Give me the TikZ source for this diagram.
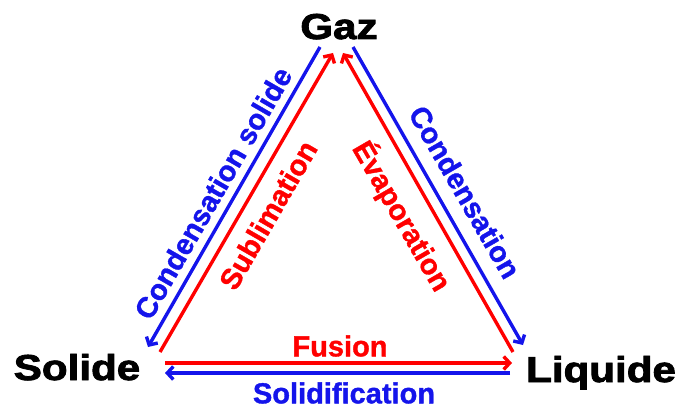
\documentclass[tikz,border=0pt]{standalone}
\usepackage{fontspec}
\setmainfont{Liberation Sans}
\newfontfamily\heavyfont{Liberation Sans}[BoldFeatures={FakeBold=2.2}]
\newfontfamily\midfont{Liberation Sans}[BoldFeatures={FakeBold=1.2}]
\usetikzlibrary{arrows.meta}
\definecolor{cred}{RGB}{255,0,0}
\definecolor{cblue}{RGB}{20,20,235}
\begin{document}
\begin{tikzpicture}[x=1pt,y=-1pt,
  state/.style={font=\heavyfont\fontsize{36}{40}\selectfont\bfseries, xscale=1.17, inner sep=0, anchor=base},
  lbl/.style={font=\midfont\fontsize{29}{32}\selectfont\bfseries, inner sep=0},
  arr/.style={line width=3.4pt, -{Straight Barb[length=6pt,width=13pt]}}]
\useasboundingbox (0,0) rectangle (681,412);
% states
\node[state] (gaz) at (339,39) {Gaz};
\node[state] (solide) at (77,380) {Solide};
\node[state] (liquide) at (601,382) {Liquide};
% connector end points
\coordinate (bl1) at (320,47);  \coordinate (bl2) at (148,347);
\coordinate (rl1) at (160,352); \coordinate (rl2) at (333,53);
\coordinate (rr1) at (513,352); \coordinate (rr2) at (343,53);
\coordinate (br1) at (353,47);  \coordinate (br2) at (523,345);
\coordinate (rh1) at (165,363); \coordinate (rh2) at (512,363);
\coordinate (bh1) at (510,373); \coordinate (bh2) at (165,373);
% connectors
\draw[arr, cblue] (bl1) -- (bl2);
\draw[arr, cred] (rl1) -- (rl2);
\draw[arr, cred] (rr1) -- (rr2);
\draw[arr, cblue] (br1) -- (br2);
\draw[arr, cred] (rh1) -- (rh2);
\draw[arr, cblue] (bh1) -- (bh2);
% labels
\node[lbl, cblue, rotate=60] (lcs) at (213,193) {Condensation solide};
\node[lbl, cred, rotate=60] (lsub) at (268,215) {Sublimation};
\node[lbl, cred, rotate=-60] (levap) at (402,216) {Évaporation};
\node[lbl, cblue, rotate=-60] (lcond) at (465,192) {Condensation};
\node[lbl, cred] (lfus) at (340,346) {Fusion};
\node[lbl, cblue] (lsol) at (344,393) {Solidification};
\end{tikzpicture}
\end{document}
